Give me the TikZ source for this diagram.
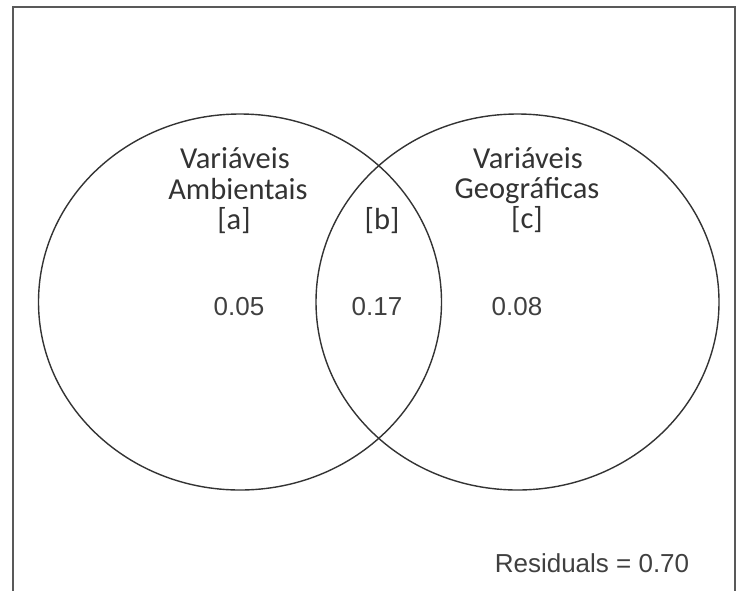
\documentclass[tikz,border=0pt]{standalone}
\usepackage{fontspec}
\setmainfont{Liberation Sans}
\newfontfamily\labfont{Carlito}
\begin{document}
\begin{tikzpicture}[x=1pt,y=-1pt,
  frame/.style={draw=black!65,line width=2pt},
  setshape/.style={draw=black!80,line width=1.4pt},
  lab/.style={inner sep=0pt,anchor=base,text=black!80,font=\labfont\fontsize{30.5}{30}\selectfont},
  num/.style={inner sep=0pt,anchor=base,text=black!75,font=\fontsize{26}{30}\selectfont}]
\useasboundingbox (0,0) rectangle (736,590);
\begin{scope}
\clip (0,0) rectangle (736,590);
\draw[frame] (12.5,6.5) rectangle (734.5,610);
\end{scope}
\draw[setshape] (240,302) ellipse [x radius=201.5, y radius=188];
\draw[setshape] (517.5,302) ellipse [x radius=201.5, y radius=188];
\node[lab] (a1) at (235,168) {Variáveis};
\node[lab] (a2) at (238,199) {Ambientais};
\node[lab] (a3) at (234,229) {[a]};
\node[lab] (b1) at (382,229) {[b]};
\node[lab] (c1) at (528,168) {Variáveis};
\node[lab] (c2) at (527,198) {Geográficas};
\node[lab] (c3) at (527,228) {[c]};
\node[num] (na) at (239,315) {0.05};
\node[num] (nb) at (377,315) {0.17};
\node[num] (nc) at (517,315) {0.08};
\node[num] (res) at (592,572) {Residuals = 0.70};
\end{tikzpicture}
\end{document}
